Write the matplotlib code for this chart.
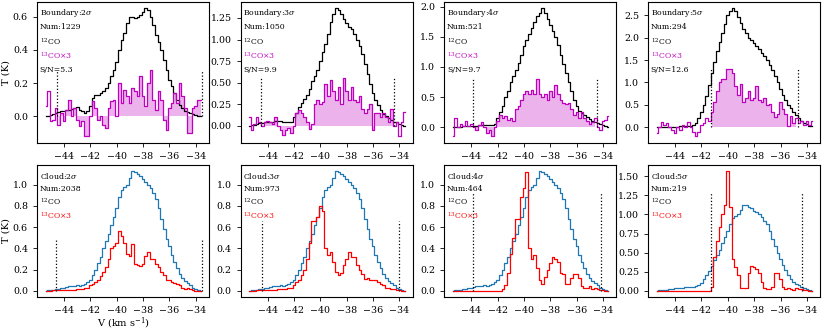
import numpy as np
import matplotlib.pyplot as plt

plt.rcParams['font.family'] = ['DejaVu Serif']
plt.rcParams['mathtext.fontset'] = 'dejavuserif'

# velocity channels (km/s)
v0 = -45.4
dv = 0.2
nchan = 60
vel = np.round(v0 + dv * np.arange(nchan), 2)

# ---- boundary spectra (top row) ----
b2_12 = [0.0, 0.005, 0.01, 0.015, 0.02, 0.025, 0.03, 0.035, 0.04, 0.04,
         0.045, 0.05, 0.055, 0.04, 0.03, 0.02, 0.03, 0.06, 0.11, 0.13,
         0.13, 0.14, 0.15, 0.17, 0.2, 0.24, 0.28, 0.33, 0.4, 0.46,
         0.5, 0.56, 0.6, 0.6, 0.59, 0.6, 0.61, 0.63, 0.65, 0.64,
         0.6, 0.55, 0.49, 0.45, 0.4, 0.34, 0.28, 0.22, 0.18, 0.14,
         0.1, 0.07, 0.05, 0.035, 0.025, 0.02, 0.015, 0.01, 0.005, 0.0]
b2_13 = [0.06, 0.15, -0.03, -0.02, 0.05, -0.05, 0.02, -0.03, 0.04, 0.1,
         0.0, 0.05, -0.02, -0.06, -0.03, -0.12, -0.12, 0.0, 0.09, 0.05,
         -0.02, 0.0, -0.05, -0.07, 0.05, 0.09, 0.1, 0.0, 0.2, 0.08,
         0.16, 0.12, 0.08, 0.17, 0.15, 0.12, 0.24, 0.12, 0.06, 0.2,
         0.28, 0.1, 0.04, 0.15, 0.1, -0.02, -0.08, 0.05, 0.08, 0.14,
         0.08, 0.2, 0.12, 0.05, -0.1, -0.1, 0.05, 0.06, 0.1, 0.1]

b3_12 = [0.0, 0.01, 0.015, 0.02, 0.03, 0.035, 0.04, 0.05, 0.05, 0.05,
         0.055, 0.06, 0.06, 0.05, 0.05, 0.04, 0.05, 0.1, 0.15, 0.22,
         0.27, 0.31, 0.36, 0.43, 0.52, 0.58, 0.65, 0.75, 0.85, 0.95,
         1.06, 1.2, 1.3, 1.36, 1.34, 1.3, 1.24, 1.19, 1.15, 1.12,
         1.06, 1.0, 0.93, 0.83, 0.72, 0.6, 0.48, 0.38, 0.3, 0.24,
         0.19, 0.14, 0.11, 0.09, 0.07, 0.05, 0.04, 0.02, 0.01, 0.0]
b3_13 = [0.1, -0.05, 0.02, 0.1, 0.05, 0.0, 0.05, 0.06, 0.05, 0.02,
         0.1, 0.0, -0.05, -0.1, -0.05, -0.02, -0.08, 0.0, 0.15, 0.18,
         0.15, 0.1, 0.05, -0.03, 0.02, 0.25, 0.3, 0.25, 0.28, 0.48,
         0.35, 0.53, 0.4, 0.3, 0.45, 0.25, 0.56, 0.4, 0.3, 0.45,
         0.3, 0.28, 0.35, 0.2, 0.15, 0.2, 0.25, -0.05, 0.15, 0.15,
         0.1, 0.15, 0.1, 0.05, 0.2, 0.0, 0.05, -0.12, 0.05, 0.16]

b4_12 = [0.0, 0.005, 0.01, 0.01, 0.015, 0.015, 0.02, 0.02, 0.025, 0.025,
         0.03, 0.03, 0.03, 0.03, 0.03, 0.04, 0.06, 0.15, 0.25, 0.36,
         0.5, 0.6, 0.75, 0.85, 0.95, 1.06, 1.2, 1.35, 1.45, 1.55,
         1.65, 1.75, 1.85, 1.9, 1.97, 1.9, 1.8, 1.7, 1.6, 1.5,
         1.36, 1.2, 1.05, 0.9, 0.75, 0.6, 0.45, 0.35, 0.27, 0.24,
         0.2, 0.17, 0.14, 0.11, 0.09, 0.07, 0.05, 0.04, 0.02, 0.0]
b4_13 = [-0.15, 0.15, 0.0, 0.05, 0.02, 0.1, 0.02, 0.05, 0.0, -0.05,
         0.03, 0.08, 0.0, -0.1, -0.05, -0.15, 0.0, 0.1, 0.2, 0.15,
         0.18, 0.12, 0.15, 0.1, 0.3, 0.35, 0.45, 0.55, 0.6, 0.55,
         0.62, 0.55, 0.8, 0.55, 0.5, 0.55, 0.45, 0.6, 0.5, 0.7,
         0.55, 0.45, 0.4, 0.38, 0.4, 0.3, 0.2, 0.25, 0.15, 0.25,
         0.15, 0.1, 0.05, 0.08, 0.15, 0.0, -0.05, 0.1, 0.12, 0.18]

b5_12 = [0.0, 0.005, 0.005, 0.01, 0.01, 0.01, 0.01, 0.015, 0.015, 0.02,
         0.02, 0.02, 0.025, 0.04, 0.05, 0.1, 0.2, 0.35, 0.5, 0.7,
         0.95, 1.2, 1.45, 1.7, 1.9, 2.1, 2.3, 2.5, 2.6, 2.65,
         2.6, 2.45, 2.33, 2.2, 2.1, 2.0, 1.95, 1.88, 1.82, 1.75,
         1.65, 1.58, 1.5, 1.38, 1.28, 1.15, 1.0, 0.85, 0.72, 0.6,
         0.5, 0.42, 0.34, 0.27, 0.2, 0.15, 0.1, 0.07, 0.04, 0.02]
b5_13 = [-0.13, 0.0, 0.12, 0.05, 0.1, 0.0, -0.05, -0.13, 0.0, -0.05,
         0.05, 0.0, 0.12, 0.0, -0.1, -0.2, -0.1, 0.05, 0.1, 0.2,
         0.15, 0.35, 0.57, 0.8, 1.0, 1.08, 1.08, 1.3, 1.3, 1.2,
         0.92, 0.73, 0.96, 0.57, 0.65, 0.8, 0.6, 0.65, 0.92, 0.6,
         0.57, 0.65, 0.49, 0.53, 0.34, 0.22, 0.3, 0.57, 0.41, 0.3,
         0.02, 0.26, 0.1, 0.2, 0.1, 0.15, 0.05, 0.14, 0.05, 0.14]

# ---- cloud spectra (bottom row) ----
cloud_12 = [0.0, 0.003, 0.005, 0.01, 0.015, 0.02, 0.025, 0.03, 0.035, 0.04,
            0.04, 0.045, 0.05, 0.045, 0.05, 0.06, 0.08, 0.1, 0.15, 0.2,
            0.26, 0.32, 0.4, 0.47, 0.54, 0.62, 0.7, 0.78, 0.88, 0.95,
            0.98, 1.0, 1.06, 1.13, 1.12, 1.1, 1.08, 1.05, 1.03, 1.0,
            0.97, 0.92, 0.87, 0.78, 0.68, 0.58, 0.49, 0.42, 0.34, 0.27,
            0.21, 0.16, 0.12, 0.09, 0.07, 0.05, 0.03, 0.02, 0.01, 0.0]
c2_13 = [0.0, 0.0, 0.002, 0.003, 0.005, 0.005, 0.005, 0.006, 0.007, 0.008,
         0.01, 0.01, 0.012, 0.015, 0.02, 0.025, 0.03, 0.05, 0.06, 0.08,
         0.1, 0.14, 0.18, 0.22, 0.3, 0.4, 0.42, 0.45, 0.56, 0.52,
         0.45, 0.35, 0.33, 0.44, 0.25, 0.24, 0.23, 0.25, 0.33, 0.37,
         0.3, 0.3, 0.25, 0.22, 0.18, 0.15, 0.1, 0.1, 0.08, 0.07,
         0.06, 0.05, 0.03, 0.02, 0.03, 0.02, 0.01, 0.0, 0.0, 0.0]
c3_13 = [0.0, 0.0, 0.002, 0.004, 0.005, 0.006, 0.007, 0.008, 0.01, 0.01,
         0.01, 0.012, 0.015, 0.015, 0.02, 0.025, 0.03, 0.05, 0.08, 0.1,
         0.15, 0.2, 0.3, 0.45, 0.66, 0.66, 0.7, 0.8, 0.75, 0.4,
         0.34, 0.37, 0.27, 0.18, 0.15, 0.17, 0.24, 0.3, 0.37, 0.32,
         0.32, 0.24, 0.2, 0.16, 0.11, 0.12, 0.1, 0.1, 0.1, 0.08,
         0.06, 0.05, 0.03, 0.03, 0.02, 0.02, 0.01, 0.01, 0.0, 0.0]
c4_13 = [0.0, 0.0, 0.0, 0.0, 0.0, 0.0, 0.0, 0.0, 0.0, 0.0,
         0.0, 0.0, 0.0, 0.0, 0.0, 0.0, 0.0, 0.0, 0.0, 0.02,
         0.05, 0.17, 0.35, 0.5, 0.68, 0.68, 0.88, 0.97, 1.12, 0.4,
         0.3, 0.34, 0.21, 0.1, 0.06, 0.13, 0.2, 0.26, 0.32, 0.3,
         0.27, 0.17, 0.16, 0.06, 0.06, 0.12, 0.16, 0.16, 0.12, 0.04,
         0.03, 0.03, 0.04, 0.02, 0.03, 0.02, 0.01, 0.01, 0.0, 0.0]
c5_13 = [0.0, 0.0, 0.0, 0.0, 0.0, 0.0, 0.0, 0.0, 0.0, 0.0,
         0.0, 0.0, 0.0, 0.0, 0.0, 0.0, 0.0, 0.0, 0.0, 0.0,
         0.0, 0.05, 0.44, 0.65, 0.84, 1.01, 1.12, 1.57, 1.1, 0.42,
         0.31, 0.2, 0.03, 0.04, 0.03, 0.23, 0.33, 0.31, 0.29, 0.23,
         0.12, 0.04, 0.02, 0.02, 0.05, 0.23, 0.23, 0.16, 0.05, 0.02,
         0.03, 0.02, 0.01, 0.03, 0.02, 0.02, 0.01, 0.01, 0.0, 0.0]

levels = ['2', '3', '4', '5']
bound_num = [1229, 1050, 521, 294]
bound_sn = [5.3, 9.9, 9.7, 12.6]
bound_12 = [b2_12, b3_12, b4_12, b5_12]
bound_13 = [b2_13, b3_13, b4_13, b5_13]
bound_edges = [(-44.5, -33.5), (-44.5, -34.4), (-43.9, -34.5), (-41.3, -34.7)]
bound_dash_h = [0.28, 0.55, 0.8, 1.3]
bound_yticks = [[0.0, 0.2, 0.4, 0.6],
                [0.0, 0.25, 0.5, 0.75, 1.0, 1.25],
                [0.0, 0.5, 1.0, 1.5, 2.0],
                [0.0, 0.5, 1.0, 1.5, 2.0, 2.5]]

cloud_num = [2038, 973, 464, 219]
cloud_13 = [c2_13, c3_13, c4_13, c5_13]
cloud_edges = [(-44.6, -33.5), (-44.4, -34.0), (-43.9, -34.15), (-41.3, -34.4)]
cloud_dash_h = [0.48, 0.66, 0.93, 1.29]
cloud_yticks = [[0.0, 0.2, 0.4, 0.6, 0.8, 1.0]] * 3 + \
               [[0.0, 0.25, 0.5, 0.75, 1.0, 1.25, 1.5]]

fig = plt.figure(figsize=(8.3, 3.32), dpi=100)

lefts = [0.0446, 0.2900, 0.5354, 0.7808]
w = 0.2072
fs_txt = 5.6
fs_tick = 6.8
xt = [-44, -42, -40, -38, -36, -34]


def style(ax, yt):
    ax.set_xlim(-46.05, -33.0)
    ax.set_xticks(xt)
    ax.set_yticks(yt)
    ax.tick_params(labelsize=fs_tick, length=3, width=0.6)


for i in range(4):
    # top row: boundary
    ax = fig.add_axes([lefts[i], 0.5702, w, 0.4238])
    y12 = np.array(bound_12[i])
    y13 = np.array(bound_13[i])
    lo, hi = bound_edges[i]
    ax.step(vel, y12, where='mid', color='k', lw=0.9)
    ax.step(vel, y13, where='mid', color='m', lw=0.9)
    m = (vel >= lo) & (vel <= hi)
    ax.fill_between(vel[m], y13[m], step='mid', color='m', alpha=0.3, lw=0)
    ax.vlines([lo, hi], 0, bound_dash_h[i], colors='k', linestyles=':', lw=0.9)
    style(ax, bound_yticks[i])
    tr = ax.transAxes
    ax.text(0.015, 0.92, 'Boundary:' + levels[i] + r'$\sigma$', transform=tr,
            fontsize=fs_txt, va='center')
    ax.text(0.015, 0.82, 'Num:%d' % bound_num[i], transform=tr, fontsize=fs_txt, va='center')
    ax.text(0.015, 0.72, r'$^{12}$CO', transform=tr, fontsize=fs_txt, va='center')
    ax.text(0.015, 0.62, r'$^{13}$CO$\times$3', transform=tr, fontsize=fs_txt,
            va='center', color='m')
    ax.text(0.015, 0.52, 'S/N=%.1f' % bound_sn[i], transform=tr, fontsize=fs_txt, va='center')
    if i == 0:
        ax.set_ylabel('T (K)', fontsize=7)
        ax.yaxis.set_label_coords(-0.155, 0.5)

    # bottom row: cloud
    ax = fig.add_axes([lefts[i], 0.1063, w, 0.3967])
    lo, hi = cloud_edges[i]
    ax.step(vel, cloud_12, where='mid', color='#1f77b4', lw=0.9)
    ax.step(vel, cloud_13[i], where='mid', color='r', lw=0.9)
    ax.vlines([lo, hi], 0, cloud_dash_h[i], colors='k', linestyles=':', lw=0.9)
    style(ax, cloud_yticks[i])
    tr = ax.transAxes
    ax.text(0.015, 0.92, 'Cloud:' + levels[i] + r'$\sigma$', transform=tr,
            fontsize=fs_txt, va='center')
    ax.text(0.015, 0.82, 'Num:%d' % cloud_num[i], transform=tr, fontsize=fs_txt, va='center')
    ax.text(0.015, 0.72, r'$^{12}$CO', transform=tr, fontsize=fs_txt, va='center')
    ax.text(0.015, 0.62, r'$^{13}$CO$\times$3', transform=tr, fontsize=fs_txt,
            va='center', color='r')
    if i == 0:
        ax.set_ylabel('T (K)', fontsize=7)
        ax.yaxis.set_label_coords(-0.155, 0.5)
        ax.set_xlabel(r'V (km s$^{-1}$)', fontsize=7)
        ax.xaxis.set_label_coords(0.5, -0.14)

fig.savefig('out.png', dpi=100)
